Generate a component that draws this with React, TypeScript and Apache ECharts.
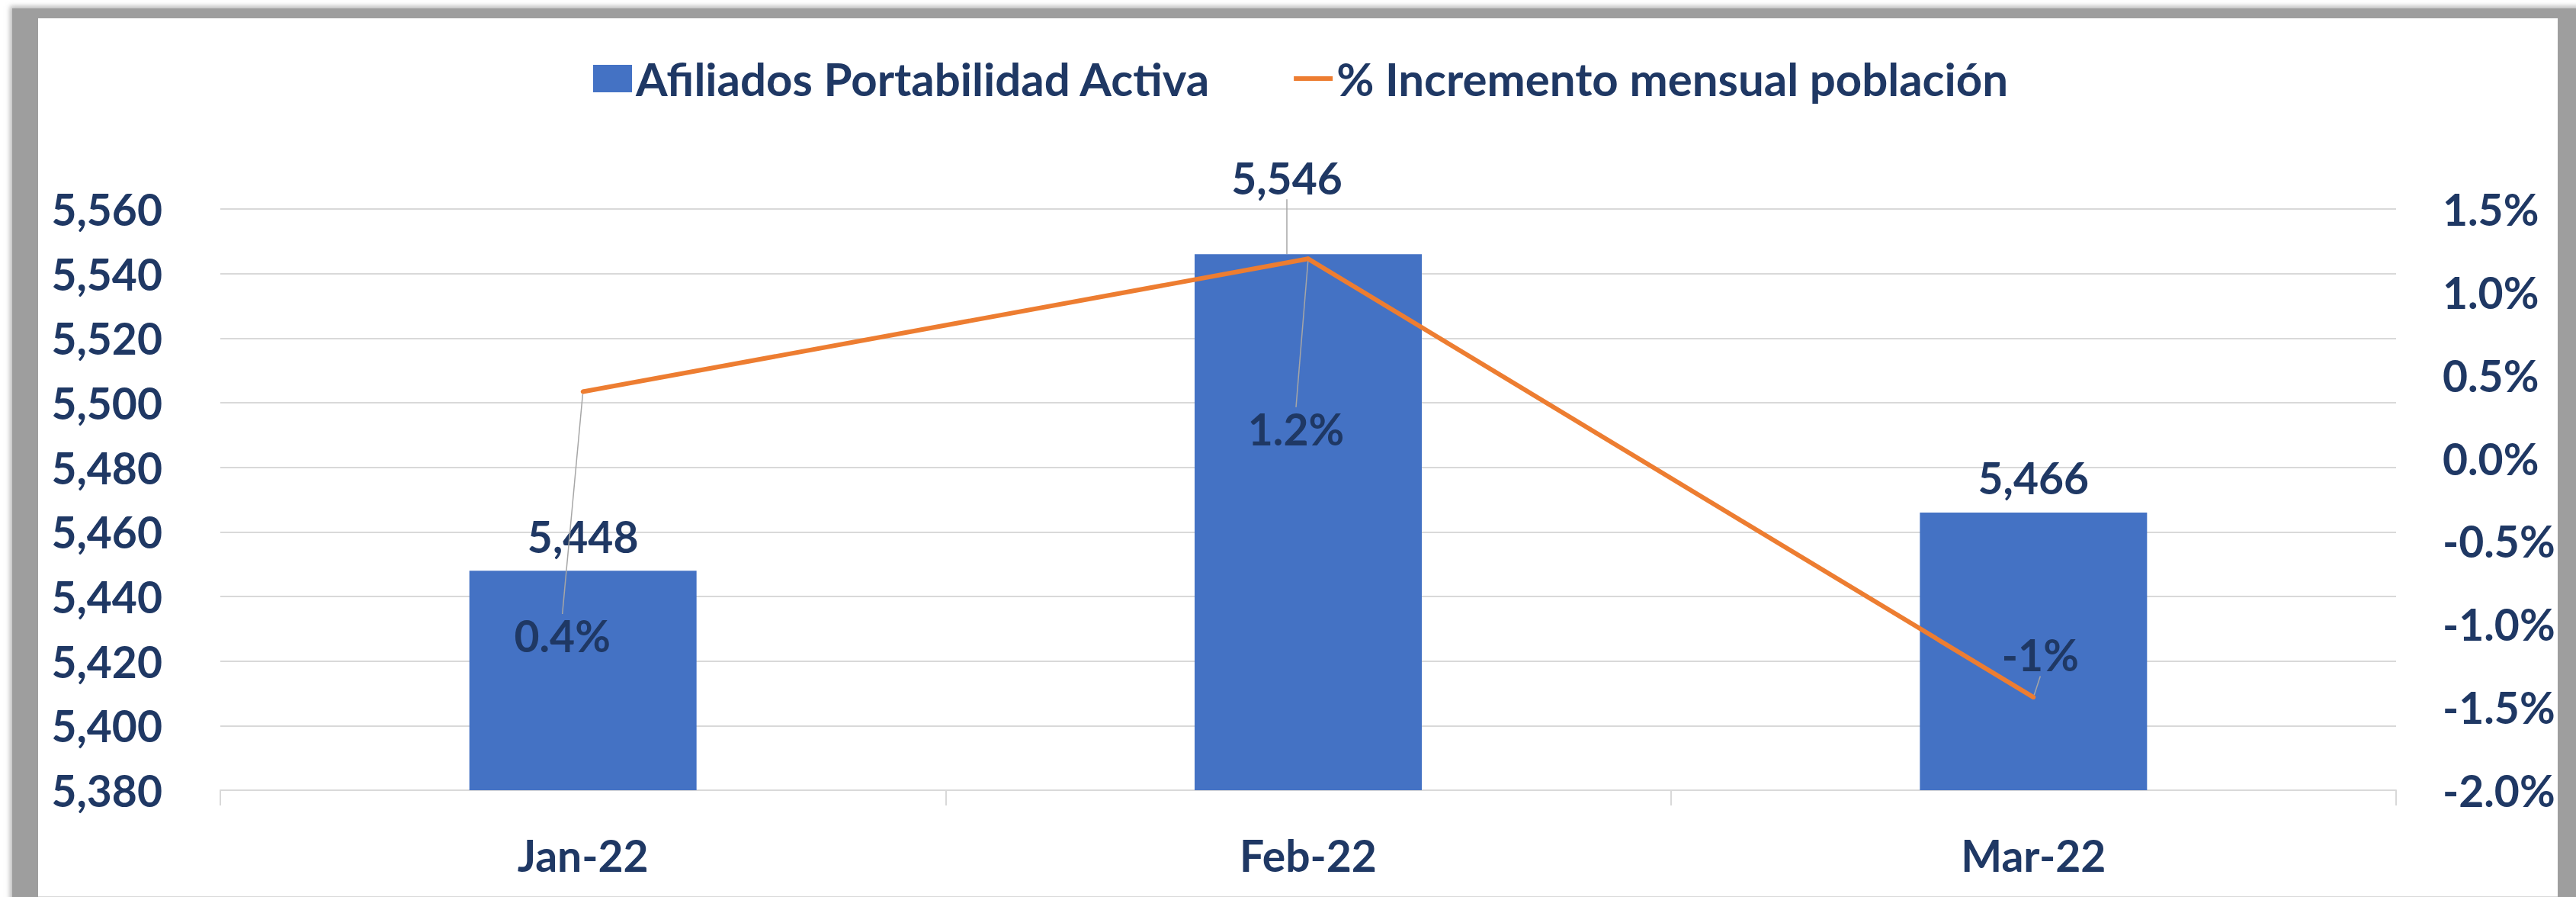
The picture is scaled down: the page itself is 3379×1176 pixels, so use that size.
import React, { useEffect, useRef } from 'react';
import * as echarts from 'echarts';

// ---------- data ----------
const categories = ['Jan-22', 'Feb-22', 'Mar-22'];
const afiliados = [5448, 5546, 5466];
const incremento = [0.4, 1.2, -1.44];
const incrementoLabels = ['0.4%', '1.2%', '-1%'];
const seriesNames = ['Afiliados Portabilidad Activa', '% Incremento mensual población'];
const leftAxisMin = 5380;
const leftAxisMax = 5560;
const leftAxisStep = 20;
const rightAxisMin = -2.0;
const rightAxisMax = 1.5;
const rightAxisStep = 0.5;

// ---------- styles ----------
const NAVY = '#1F3864';
const BLUE = '#4472C4';
const ORANGE = '#ED7D31';
const GRID = '#D9D9D9';
const FONT = 'Lato, "Noto Sans", sans-serif';
const FS = 57;

// label displacement (style) relative to default label position
const barLabelMove = [null, { dx: -28, dy: -55 }, null];
const lineLabelMove = [
  { dx: -27, dy: 320 },
  { dx: -16, dy: 223 },
  { dx: 9, dy: -56 },
];

const W = 3379;
const H = 1176;

export default function App() {
  const ref = useRef<HTMLDivElement>(null);

  useEffect(() => {
    if (!ref.current) return;
    const chart = echarts.init(ref.current, null, { renderer: 'svg', width: W, height: H });

    const textBase = { fontFamily: FONT, fontWeight: 'bold' as const, fontSize: FS, color: NAVY };

    const option: any = {
      animation: false,
      backgroundColor: 'transparent',
      legend: {
        left: 773,
        top: 68,
        itemWidth: 51,
        itemHeight: 36,
        itemGap: 106,
        selectedMode: false,
        textStyle: { ...textBase, fontSize: 60, lineHeight: 36 },
        data: [
          { name: seriesNames[0], icon: 'rect', itemStyle: { color: BLUE } },
          {
            name: seriesNames[1],
            itemStyle: { color: 'rgba(0,0,0,0)', borderWidth: 0 },
            lineStyle: { color: ORANGE, width: 6 },
          },
        ],
      },
      grid: {
        left: 289,
        right: W - 3143,
        top: 274,
        bottom: H - 1036,
        containLabel: false,
        outerBoundsMode: 'none',
      },
      xAxis: {
        type: 'category',
        data: categories,
        boundaryGap: true,
        axisLine: { show: true, onZero: false, lineStyle: { color: GRID, width: 2 } },
        axisTick: { show: true, length: 20, alignWithLabel: false, lineStyle: { color: GRID, width: 2 } },
        axisLabel: { ...textBase, margin: 56 },
        splitLine: { show: false },
      },
      yAxis: [
        {
          type: 'value',
          min: leftAxisMin,
          max: leftAxisMax,
          interval: leftAxisStep,
          axisLine: { show: false },
          axisTick: { show: false },
          splitLine: { show: true, lineStyle: { color: GRID, width: 2 } },
          axisLabel: {
            ...textBase,
            margin: 76,
            formatter: (v: number) => echarts.format.addCommas(v),
          },
        },
        {
          type: 'value',
          position: 'right',
          min: rightAxisMin,
          max: rightAxisMax,
          interval: rightAxisStep,
          axisLine: { show: false },
          axisTick: { show: false },
          splitLine: { show: false },
          axisLabel: {
            ...textBase,
            margin: 61,
            align: 'left',
            formatter: (v: number) => v.toFixed(1) + '%',
          },
        },
      ],
      series: [
        {
          name: seriesNames[0],
          type: 'bar',
          yAxisIndex: 0,
          barWidth: 298,
          itemStyle: { color: BLUE },
          data: afiliados.map((v, i) => ({
            value: v,
            labelLine: { show: !!barLabelMove[i] },
          })),
          label: {
            show: true,
            position: 'top',
            distance: 17,
            ...textBase,
            formatter: (p: any) => echarts.format.addCommas(p.value),
          },
          labelLine: { show: false, lineStyle: { color: '#A6A6A6', width: 1.5 } },
          labelLayout: (p: any) => {
            const m = barLabelMove[p.dataIndex];
            return m ? { dx: m.dx, dy: m.dy } : {};
          },
          z: 2,
        },
        {
          name: seriesNames[1],
          type: 'line',
          yAxisIndex: 1,
          data: incremento,
          symbol: 'circle',
          symbolSize: 6,
          showSymbol: true,
          itemStyle: { color: ORANGE },
          lineStyle: { color: ORANGE, width: 6 },
          label: {
            show: true,
            position: 'inside',
            ...textBase,
            formatter: (p: any) => incrementoLabels[p.dataIndex],
          },
          labelLine: { show: true, lineStyle: { color: '#A6A6A6', width: 1.5 } },
          labelLayout: (p: any) => {
            const m = lineLabelMove[p.dataIndex];
            return { dx: m.dx, dy: m.dy };
          },
          z: 3,
        },
      ],
    };

    chart.setOption(option);
    return () => {
      chart.dispose();
    };
  }, []);

  return (
    <div style={{ position: 'absolute', left: 0, top: 0, width: W, height: H, background: '#fff', overflow: 'hidden' }}>
      <div
        style={{
          position: 'absolute',
          left: 16,
          top: 11,
          width: W,
          height: H,
          background: '#9E9E9E',
          boxShadow: '0 0 6px 3px rgba(158,158,158,0.7)',
        }}
      />
      <div
        style={{
          position: 'absolute',
          left: 50,
          top: 24,
          width: 3305,
          height: 1151,
          background: '#fff',
          borderBottom: '1px solid #D9D9D9',
        }}
      />
      <div ref={ref} style={{ position: 'absolute', left: 0, top: 0, width: W, height: H }} />
    </div>
  );
}
